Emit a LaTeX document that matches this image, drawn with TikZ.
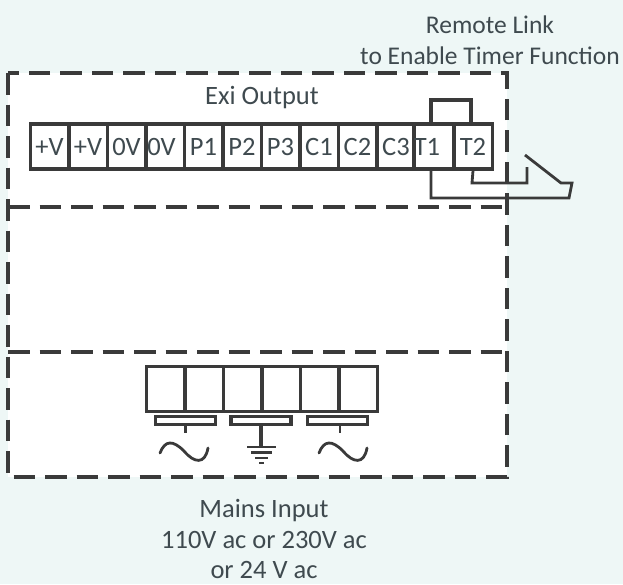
\documentclass[tikz,border=0pt]{standalone}
\usepackage{fontspec}
\setmainfont{Carlito}
\definecolor{bgteal}{HTML}{EEF7F6}
\definecolor{ink}{HTML}{3A3A3A}
\definecolor{txt}{HTML}{3F4A4F}
\tikzstyle{term} = [rectangle,
minimum width=38.5pt,
minimum height=45pt,
inner sep=0pt,
text=txt,
font=\fontsize{26.5}{26.5}\selectfont,
draw=ink, line width=3.5pt, fill=white]
\tikzstyle{bar} = [rectangle,
minimum width=60pt,
minimum height=8pt,
inner sep=0pt,
draw=ink, line width=3.5pt, fill=white]
\tikzstyle{caption} = [text=txt, align=center, inner sep=0pt,
font=\fontsize{26.5}{30.5}\selectfont]
\tikzstyle{zone} = [line width=3.5pt, draw=ink, dash pattern=on 21.5pt off 10pt]
\tikzstyle{wire} = [line width=2.8pt, draw=ink]
\begin{document}
\begin{tikzpicture}[x=1pt, y=-1pt, node distance=38.5pt]
	\useasboundingbox (0,0) rectangle (623,584);
	\fill [bgteal] (0,0) rectangle (623,584);
	\fill [white] (8,73) rectangle (507,477);

	% zones
	\coordinate (zone_tl) at (8,73);
	\coordinate (zone_br) at (507,477);
	\coordinate (mid_a) at (8,207);
	\coordinate (mid_b) at (507,207);
	\coordinate (low_a) at (8,352);
	\coordinate (low_b) at (507,352);
	\draw [zone] (zone_tl) rectangle (zone_br);
	\draw [zone] (mid_a) -- (mid_b);
	\draw [zone] (low_a) -- (low_b);

	% output terminals
	\node (t_pv1) [term] at (49.5,146.5) {+V};
	\node (t_pv2) [term, right of=t_pv1] {+V};
	\node (t_ov1) [term, right of=t_pv2] {0V};
	\node (t_ov2) [term, right of=t_ov1] {\hbox{0V\kern7pt}};
	\node (t_p1) [term, right of=t_ov2] {P1};
	\node (t_p2) [term, right of=t_p1] {P2};
	\node (t_p3) [term, right of=t_p2] {P3};
	\node (t_c1) [term, right of=t_p3] {C1};
	\node (t_c2) [term, right of=t_c1] {C2};
	\node (t_c3) [term, right of=t_c2] {C3};
	\node (t_t1) [term, right of=t_c3] {\hbox{T1\kern15pt}};
	\node (t_t2) [term, right of=t_t1] {T2};
	\node (link) [rectangle, draw=ink, line width=3.5pt, fill=white, minimum width=40pt, minimum height=24pt, inner sep=0pt] at (451,112) {};

	% switch
	\coordinate (sw_a) at (431,198);
	\coordinate (sw_b) at (569,198);
	\coordinate (sw_c) at (572,183);
	\coordinate (sw_d) at (561,183);
	\coordinate (sw_e) at (525,155);
	\coordinate (sw_f) at (472,183);
	\coordinate (sw_g) at (527,183);
	\coordinate (sw_h) at (527,167);
	\draw [wire] (t_t1.south -| sw_a) -- (sw_a) -- (sw_b) -- (sw_c) -- (sw_d) -- (sw_e);
	\draw [wire] (t_t2.south) -- (sw_f) -- (sw_g) -- (sw_h);

	% mains terminals
	\node (m_a) [term] at (165.5,389) {};
	\node (m_b) [term, right of=m_a] {};
	\node (m_c) [term, right of=m_b] {};
	\node (m_d) [term, right of=m_c] {};
	\node (m_e) [term, right of=m_d] {};
	\node (m_f) [term, right of=m_e] {};
	\node (bar_a) [bar] at (185.5,420.5) {};
	\node (bar_b) [bar] at (261,420.5) {};
	\node (bar_c) [bar] at (337.5,420.5) {};

	% supply symbols
	\coordinate (stub_a) at (185.5,433);
	\coordinate (stub_c) at (340,433);
	\coordinate (gnd) at (261,447);
	\draw [wire] (bar_a.south) -- (stub_a);
	\draw [wire] (bar_c.south -| stub_c) -- (stub_c);
	\draw [wire, line width=3.5pt] (bar_b.south) -- (gnd);
	\draw [wire] (247,447) -- (276,447);
	\draw [wire] (251,452.5) -- (272,452.5);
	\draw [wire] (255,458) -- (268,458);
	\draw [wire] (259,463) -- (264,463);
	\draw [wire, line cap=round] (160,453) .. controls (165,440) and (173,440) .. (184,451) .. controls (194,463) and (205,465) .. (208,448);
	\draw [wire, line cap=round] (319,453) .. controls (324,440) and (332,440) .. (343,451) .. controls (353,463) and (364,465) .. (367,448);

	% captions
	\node (remote) [caption, font=\fontsize{25.5}{31}\selectfont] at (490,40.5) {Remote Link\\to Enable Timer Function};
	\node (exi) [caption] at (262,98) {Exi Output};
	\node (mains) [caption] at (264,539) {Mains Input\\110V ac or 230V ac\\or 24 V ac};
\end{tikzpicture}
\end{document}
